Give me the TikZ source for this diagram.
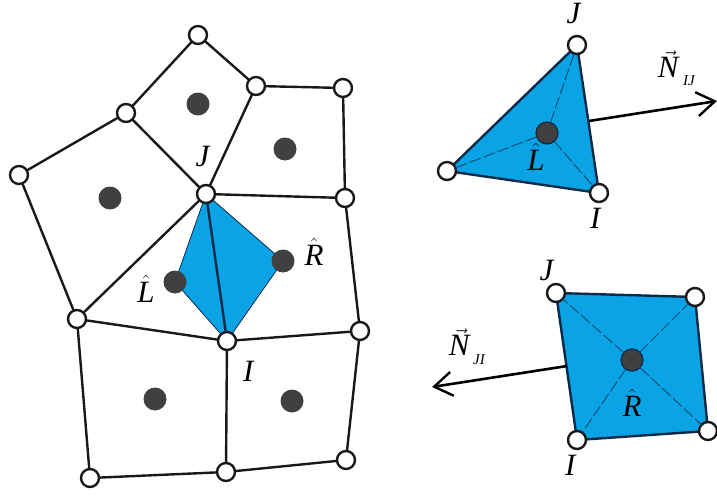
\documentclass[tikz,border=0pt]{standalone}
\usepackage{fontspec}
\setmainfont{Liberation Serif}
\usetikzlibrary{backgrounds,arrows.meta}
\definecolor{cellblue}{HTML}{0AA4E6}
\definecolor{navy}{HTML}{0B2A48}
\definecolor{dot}{HTML}{404040}
\newcommand{\mv}[1]{\textit{#1}}
\tikzset{
 x=1pt,y=-1pt,
 vert/.style={circle,draw=black!90,fill=white,line width=2.4pt,minimum size=18pt,inner sep=0pt,outer sep=0pt},
 cen/.style={circle,fill=dot,draw=none,minimum size=23pt,inner sep=0pt,outer sep=0pt},
 cenb/.style={cen,draw=navy,line width=1.2pt,minimum size=22pt},
 lab/.style={inner sep=0pt,font=\fontsize{31}{33}\selectfont},
 sub/.style={inner sep=0pt,font=\fontsize{15}{16}\selectfont\itshape},
 edge/.style={line width=2.4pt,draw=black!90},
 cell/.style={fill=cellblue,draw=navy,line width=2.4pt,line join=round},
 spoke/.style={draw=navy!70!cellblue,line width=1pt,dash pattern=on 12pt off 3pt},
 normal/.style={line width=2.6pt,draw=black,-{Straight Barb[length=18pt,width=24pt,line width=2.4pt]}},
}
\begin{document}
\begin{tikzpicture}
\useasboundingbox (0,0) rectangle (717,495);
% left mesh vertices
\node[vert] (a) at (198,35) {};
\node[vert] (b) at (256,86) {};
\node[vert] (c) at (126,113) {};
\node[vert] (d) at (343,88) {};
\node[vert] (e) at (19,175) {};
\node[vert] (f) at (206,194) {};
\node[vert] (g) at (345,198) {};
\node[vert] (h) at (77,319) {};
\node[vert] (i) at (227,341) {};
\node[vert] (j) at (360,331) {};
\node[vert] (k) at (90,478) {};
\node[vert] (l) at (226,472) {};
\node[vert] (m) at (346,460) {};
% centres
\node[cen] (c1) at (198,104) {};
\node[cen] (c2) at (285,149) {};
\node[cen] (c3) at (110,198) {};
\node[cen] (cL) at (175,282) {};
\node[cen] (cR) at (283,261) {};
\node[cen] (c4) at (155,399) {};
\node[cen] (c5) at (292,401) {};
\begin{scope}[on background layer]
\fill[cellblue] (f.center) -- (cR.center) -- (i.center) -- (cL.center) -- cycle;
\draw[navy,line width=.8pt] (f.center) -- (cR.center) -- (i.center) -- (cL.center) -- cycle;
\end{scope}
\draw[edge] (a)--(b) (a)--(c) (c)--(e) (c)--(f) (b)--(d) (b)--(f) (d)--(g) (f)--(g)
 (e)--(h) (h)--(f) (g)--(j) (h)--(i) (i)--(j) (h)--(k) (i)--(l) (j)--(m) (k)--(l) (l)--(m);
\draw[navy,line width=2.4pt] (f)--(i);
\node[lab] (lJ) at (203,157) {\mv{J}};
\node[lab] (lL) at (146,289) {$\hat{\mbox{\mv{L}}}$};
\node[lab] (lR) at (314,252) {$\hat{\mbox{\mv{R}}}$};
\node[lab] (lI) at (249,371) {\mv{I}};
% triangle
\node[vert] (tJ) at (577,45) {};
\node[vert] (tK) at (447,171) {};
\node[vert] (tI) at (599,193) {};
\node[cenb] (tC) at (547,133) {};
\begin{scope}[on background layer]
\draw[cell] (tJ.center) -- (tK.center) -- (tI.center) -- cycle;
\end{scope}
\draw[spoke] (tC)--(tJ) (tC)--(tK) (tC)--(tI);
\coordinate (tS) at (589,121);
\coordinate (tT) at (717,101);
\draw[normal] (tS) -- (tT);
\node[lab] (tlJ) at (574,14) {\mv{J}};
\node[lab] (tlI) at (596,218) {\mv{I}};
\node[lab] (tlL) at (536,157) {$\hat{\mbox{\mv{L}}}$};
\node[lab] (tlN) at (669,64) {$\vec{\mbox{\mv{N}}}$};
\node[sub] (tlS) at (689,81) {IJ};
% square
\node[vert] (sJ) at (556,293) {};
\node[vert] (sT) at (695,297) {};
\node[vert] (sB) at (708,431) {};
\node[vert] (sI) at (577,440) {};
\node[cenb] (sC) at (632,360) {};
\begin{scope}[on background layer]
\draw[cell] (sJ.center) -- (sT.center) -- (sB.center) -- (sI.center) -- cycle;
\end{scope}
\draw[spoke] (sC)--(sJ) (sC)--(sT) (sC)--(sB) (sC)--(sI);
\coordinate (sS) at (567,366);
\coordinate (sE) at (432,387);
\draw[normal] (sS) -- (sE);
\node[lab] (slJ) at (547,270) {\mv{J}};
\node[lab] (slI) at (571,465) {\mv{I}};
\node[lab] (slR) at (632,403) {$\hat{\mbox{\mv{R}}}$};
\node[lab] (slN) at (460,342) {$\vec{\mbox{\mv{N}}}$};
\node[sub] (slS) at (479,360) {JI};
\end{tikzpicture}
\end{document}
